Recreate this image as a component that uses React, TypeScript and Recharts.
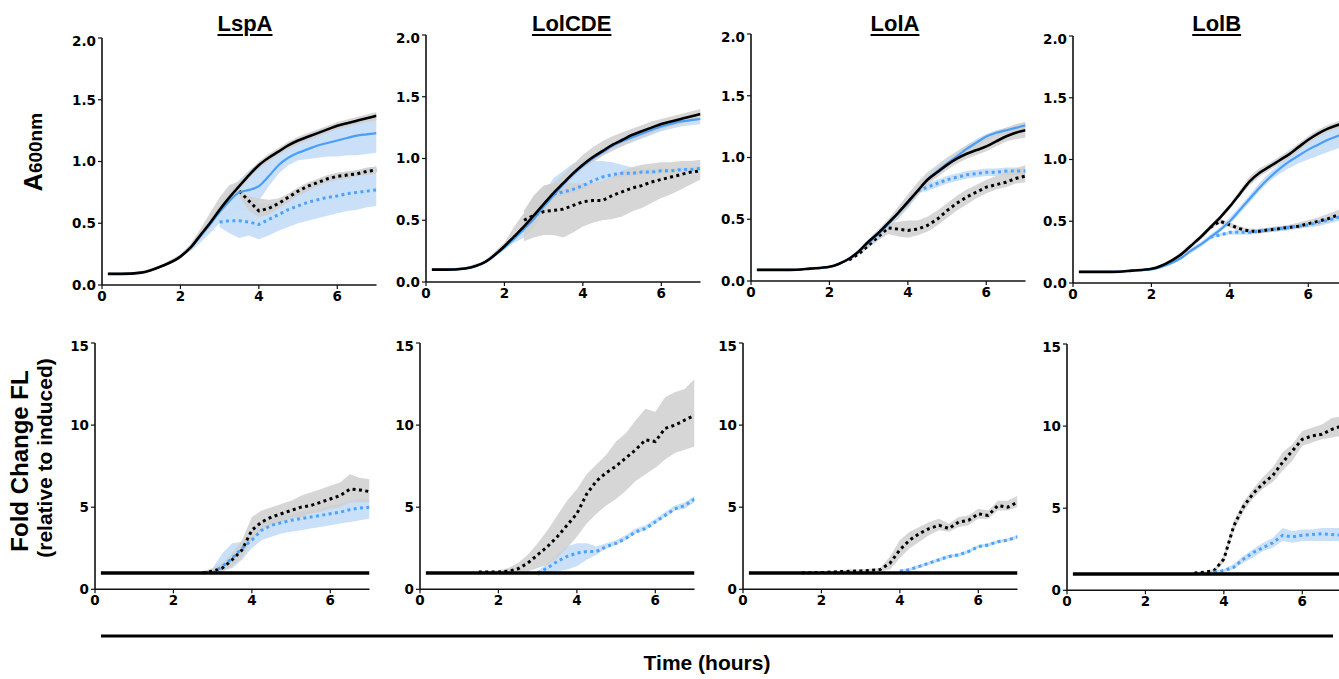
import React from 'react';
import { ComposedChart, Line, Area, XAxis, YAxis } from 'recharts';

// ---------- time grid (hours) ----------
const T = [0.15, 0.5, 1, 1.5, 2, 2.25, 2.5, 2.75, 3, 3.25, 3.5, 3.75, 4, 4.25, 4.5, 4.75, 5, 5.25, 5.5, 5.75, 6, 6.25, 6.5, 6.75, 7];

const TITLES = ['LspA', 'LolCDE', 'LolA', 'LolB'];
const X_TICKS = [0, 2, 4, 6];
const OD_TICKS = [0, 0.5, 1, 1.5, 2];
const FL_TICKS = [0, 5, 10, 15];

// ---------- A600 panels ----------
// LspA
const L1_KS = [0.09,0.09,0.1,0.15,0.23,0.3,0.4,0.5,0.61,0.71,0.8,0.89,0.97,1.03,1.08,1.13,1.17,1.2,1.23,1.26,1.29,1.31,1.33,1.35,1.37];
const L1_KS_LO = [0.085,0.085,0.095,0.14,0.22,0.28,0.37,0.46,0.57,0.67,0.77,0.86,0.94,1.0,1.05,1.1,1.14,1.17,1.2,1.23,1.26,1.28,1.3,1.32,1.33];
const L1_KS_HI = [0.1,0.1,0.11,0.16,0.25,0.33,0.45,0.58,0.71,0.81,0.84,0.92,1.0,1.06,1.11,1.16,1.2,1.23,1.26,1.29,1.32,1.34,1.36,1.38,1.4];
const L1_BS = [0.09,0.09,0.1,0.15,0.23,0.3,0.39,0.49,0.59,0.68,0.75,0.77,0.8,0.88,0.97,1.03,1.07,1.1,1.13,1.15,1.17,1.19,1.21,1.22,1.23];
const L1_BS_LO = [0.27,0.34,0.42,0.5,0.56,0.6,0.62,0.68,0.8,0.9,0.97,1.01,1.02,1.03,1.04,1.04,1.05,1.05,1.06,1.07];
const L1_BS_HI = [0.31,0.42,0.54,0.66,0.76,0.85,0.93,0.99,1.05,1.1,1.14,1.18,1.22,1.25,1.28,1.3,1.32,1.34,1.36,1.38];
const L1_KD = [0.76,0.68,0.6,0.62,0.66,0.71,0.76,0.8,0.83,0.86,0.88,0.89,0.9,0.92,0.93];
const L1_KD_LO = [0.72,0.6,0.55,0.57,0.62,0.67,0.72,0.76,0.8,0.83,0.85,0.86,0.88,0.89,0.9];
const L1_KD_HI = [0.78,0.72,0.7,0.69,0.7,0.74,0.79,0.83,0.86,0.89,0.91,0.92,0.93,0.95,0.96];
const L1_BD = [0.51,0.52,0.52,0.51,0.49,0.53,0.57,0.61,0.64,0.67,0.69,0.71,0.72,0.74,0.75,0.76,0.77];
const L1_BD_LO = [0.47,0.42,0.38,0.4,0.37,0.4,0.44,0.47,0.5,0.52,0.54,0.56,0.58,0.6,0.61,0.63,0.64];
const L1_BD_HI = [0.55,0.62,0.7,0.72,0.66,0.66,0.68,0.72,0.76,0.8,0.84,0.87,0.9,0.92,0.93,0.95,0.96];

// LolCDE
const L2_KS = [0.1,0.1,0.11,0.16,0.29,0.37,0.45,0.54,0.63,0.72,0.8,0.88,0.95,1.01,1.06,1.11,1.15,1.19,1.22,1.25,1.28,1.3,1.32,1.34,1.36];
const L2_KS_LO = [0.09,0.09,0.1,0.15,0.27,0.34,0.41,0.5,0.6,0.69,0.77,0.85,0.92,0.97,1.02,1.06,1.1,1.14,1.17,1.2,1.23,1.26,1.28,1.3,1.32];
const L2_KS_HI = [0.11,0.11,0.12,0.17,0.32,0.45,0.56,0.7,0.78,0.8,0.87,0.95,1.03,1.09,1.14,1.18,1.21,1.24,1.27,1.3,1.32,1.34,1.36,1.38,1.4];
const L2_BS = [0.1,0.1,0.11,0.16,0.28,0.35,0.43,0.51,0.61,0.7,0.79,0.87,0.94,1.0,1.05,1.1,1.14,1.17,1.2,1.23,1.26,1.28,1.3,1.31,1.32];
const L2_BS_LO = [0.09,0.09,0.1,0.15,0.26,0.32,0.36,0.44,0.56,0.67,0.76,0.84,0.91,0.97,1.02,1.07,1.1,1.13,1.16,1.19,1.22,1.24,1.26,1.27,1.28];
const L2_BS_HI = [0.11,0.11,0.12,0.17,0.3,0.38,0.47,0.58,0.72,0.84,0.9,0.96,0.99,1.03,1.08,1.12,1.16,1.19,1.22,1.25,1.28,1.3,1.32,1.33,1.34];
const L2_KD = [0.5,0.54,0.57,0.58,0.59,0.62,0.65,0.66,0.66,0.7,0.73,0.76,0.78,0.81,0.83,0.85,0.87,0.89,0.9];
const L2_KD_LO = [0.33,0.36,0.38,0.38,0.36,0.4,0.45,0.48,0.5,0.51,0.53,0.57,0.6,0.64,0.68,0.71,0.75,0.79,0.83];
const L2_KD_HI = [0.58,0.7,0.78,0.8,0.8,0.8,0.8,0.8,0.82,0.85,0.9,0.93,0.95,0.96,0.97,0.97,0.98,0.98,0.99];
const L2_BD = [0.71,0.73,0.75,0.78,0.82,0.85,0.87,0.88,0.88,0.89,0.89,0.9,0.9,0.91,0.91,0.92];
const L2_BD_LO = [0.68,0.7,0.72,0.75,0.79,0.82,0.84,0.85,0.86,0.87,0.87,0.88,0.88,0.89,0.89,0.9];
const L2_BD_HI = [0.75,0.78,0.85,0.97,0.98,0.98,0.97,0.95,0.93,0.92,0.92,0.92,0.92,0.93,0.93,0.94];

// LolA
const L3_KS = [0.09,0.09,0.09,0.1,0.115,0.14,0.18,0.24,0.32,0.39,0.47,0.55,0.64,0.73,0.82,0.88,0.94,0.99,1.03,1.06,1.09,1.13,1.17,1.2,1.22];
const L3_KS_LO = [0.085,0.085,0.085,0.095,0.11,0.13,0.17,0.22,0.3,0.37,0.44,0.51,0.6,0.69,0.78,0.84,0.9,0.95,0.99,1.02,1.05,1.09,1.13,1.15,1.16];
const L3_KS_HI = [0.095,0.095,0.095,0.105,0.12,0.15,0.19,0.26,0.34,0.42,0.5,0.6,0.7,0.8,0.88,0.94,1.0,1.05,1.1,1.14,1.18,1.21,1.24,1.27,1.29];
const L3_BS = [0.09,0.09,0.09,0.1,0.115,0.14,0.18,0.24,0.31,0.38,0.46,0.55,0.63,0.73,0.82,0.89,0.95,1.01,1.07,1.12,1.17,1.2,1.22,1.24,1.26];
const L3_BS_LO = [0.085,0.085,0.085,0.095,0.11,0.13,0.17,0.22,0.29,0.36,0.43,0.5,0.59,0.69,0.79,0.86,0.92,0.98,1.04,1.09,1.14,1.17,1.19,1.21,1.23];
const L3_BS_HI = [0.095,0.095,0.095,0.105,0.12,0.15,0.19,0.26,0.33,0.4,0.49,0.58,0.67,0.77,0.85,0.92,0.98,1.04,1.1,1.15,1.19,1.22,1.24,1.26,1.28];
const L3_KD = [0.17,0.22,0.29,0.36,0.43,0.42,0.41,0.42,0.45,0.5,0.57,0.63,0.68,0.72,0.76,0.78,0.8,0.83,0.85];
const L3_KD_LO = [0.16,0.21,0.27,0.33,0.38,0.36,0.35,0.37,0.4,0.45,0.51,0.57,0.62,0.67,0.71,0.74,0.76,0.79,0.8];
const L3_KD_HI = [0.18,0.23,0.31,0.39,0.46,0.48,0.49,0.49,0.52,0.57,0.63,0.69,0.74,0.78,0.82,0.85,0.88,0.91,0.94];
const L3_BD = [0.73,0.76,0.79,0.82,0.84,0.86,0.87,0.88,0.88,0.89,0.89,0.89];
const L3_BD_LO = [0.71,0.73,0.76,0.79,0.81,0.83,0.84,0.85,0.85,0.86,0.86,0.86];
const L3_BD_HI = [0.75,0.79,0.82,0.85,0.87,0.89,0.9,0.91,0.91,0.92,0.92,0.92];

// LolB
const L4_KS = [0.09,0.09,0.09,0.1,0.115,0.14,0.18,0.23,0.3,0.37,0.45,0.53,0.62,0.72,0.82,0.89,0.94,0.99,1.04,1.1,1.16,1.21,1.25,1.28,1.3];
const L4_KS_LO = [0.085,0.085,0.085,0.095,0.11,0.13,0.17,0.21,0.28,0.35,0.43,0.51,0.6,0.7,0.79,0.86,0.91,0.96,1.01,1.07,1.13,1.18,1.22,1.25,1.27];
const L4_KS_HI = [0.095,0.095,0.095,0.105,0.12,0.15,0.19,0.25,0.32,0.39,0.47,0.55,0.64,0.75,0.86,0.93,0.97,1.02,1.07,1.13,1.19,1.24,1.28,1.31,1.33];
const L4_BS = [0.09,0.09,0.09,0.1,0.11,0.13,0.16,0.2,0.26,0.31,0.37,0.43,0.5,0.59,0.68,0.77,0.85,0.92,0.98,1.03,1.08,1.12,1.16,1.19,1.22];
const L4_BS_LO = [0.085,0.085,0.085,0.095,0.105,0.12,0.15,0.19,0.24,0.29,0.35,0.41,0.48,0.56,0.65,0.74,0.82,0.88,0.93,0.97,1.0,1.03,1.06,1.09,1.11];
const L4_BS_HI = [0.095,0.095,0.095,0.105,0.115,0.14,0.17,0.21,0.28,0.33,0.39,0.45,0.53,0.62,0.71,0.81,0.89,0.96,1.02,1.08,1.14,1.19,1.23,1.27,1.3];
const L4_KD = [0.45,0.5,0.47,0.44,0.42,0.42,0.43,0.44,0.45,0.46,0.48,0.5,0.52,0.55,0.57];
const L4_KD_LO = [0.44,0.48,0.45,0.42,0.4,0.4,0.41,0.42,0.43,0.44,0.46,0.47,0.49,0.52,0.54];
const L4_KD_HI = [0.46,0.52,0.49,0.46,0.44,0.44,0.45,0.46,0.47,0.49,0.51,0.53,0.56,0.59,0.61];
const L4_BD = [0.37,0.39,0.41,0.41,0.41,0.42,0.43,0.44,0.45,0.46,0.47,0.49,0.51,0.53,0.55];
const L4_BD_LO = [0.36,0.38,0.39,0.39,0.39,0.4,0.41,0.42,0.43,0.44,0.45,0.46,0.48,0.5,0.52];
const L4_BD_HI = [0.38,0.4,0.42,0.43,0.43,0.44,0.45,0.46,0.47,0.48,0.49,0.51,0.53,0.55,0.57];

// ---------- Fold change FL panels ----------
const FL_BASE = [1,1,1,1,1,1,1,1,1,1,1,1,1,1,1,1,1,1,1,1,1,1,1,1,1];

const F1_KD = [1.0,1.1,1.3,1.8,2.4,3.6,4.1,4.4,4.6,4.8,5.0,5.1,5.3,5.5,5.7,6.1,6.05,5.95];
const F1_KD_LO = [0.95,1.0,1.1,1.4,1.9,3.0,3.6,3.9,4.1,4.3,4.4,4.6,4.7,4.9,5.0,5.3,5.3,5.3];
const F1_KD_HI = [1.1,1.3,1.6,2.2,3.0,4.4,4.8,5.0,5.2,5.4,5.7,5.9,6.1,6.3,6.5,7.0,6.8,6.7];
const F1_BD = [1.0,1.4,1.9,2.5,3.0,3.6,3.9,4.05,4.2,4.3,4.4,4.5,4.6,4.7,4.85,4.95,5.0];
const F1_BD_LO = [0.9,1.1,1.3,1.8,2.5,3.0,3.2,3.4,3.5,3.6,3.7,3.8,3.9,4.0,4.1,4.2,4.3];
const F1_BD_HI = [1.3,2.2,2.8,2.9,3.6,4.1,4.3,4.5,4.6,4.7,4.8,4.9,5.1,5.2,5.4,5.5,5.5];

const F2_KD = [1.05,1.05,1.1,1.25,1.6,2.1,2.6,3.2,3.9,4.6,5.8,6.6,7.1,7.5,8.0,8.5,9.1,9.0,9.8,10.0,10.3,10.6];
const F2_KD_LO = [1.0,0.95,0.95,0.95,1.1,1.3,1.5,1.9,2.5,3.2,4.0,4.6,5.1,5.5,6.0,6.6,7.0,7.4,7.9,8.3,8.5,8.7];
const F2_KD_HI = [1.1,1.15,1.3,1.6,2.1,2.8,3.6,4.5,5.4,6.1,7.0,7.6,8.2,9.0,9.5,10.3,11.0,10.8,11.7,12.0,12.2,12.8];
const F2_BD = [1.0,1.3,1.7,2.0,2.2,2.3,2.3,2.6,2.8,3.1,3.5,3.7,4.1,4.5,4.9,5.1,5.5];
const F2_BD_LO = [0.8,1.0,1.1,1.2,1.4,1.8,2.1,2.5,2.7,3.0,3.4,3.6,4.0,4.4,4.8,4.9,5.3];
const F2_BD_HI = [1.1,1.6,2.2,2.6,2.8,2.8,2.6,2.8,3.0,3.3,3.7,3.9,4.3,4.7,5.1,5.3,5.7];

const F3_KD = [1.0,1.02,1.05,1.08,1.1,1.12,1.15,1.2,1.6,2.4,3.0,3.4,3.7,3.9,3.7,4.1,4.2,4.6,4.5,5.1,5.0,5.3];
const F3_KD_LO = [0.95,0.95,1.0,1.0,1.0,1.05,1.08,1.1,1.2,1.9,2.5,2.9,3.3,3.6,3.5,3.8,3.9,4.3,4.3,4.8,4.8,5.0];
const F3_KD_HI = [1.05,1.08,1.1,1.15,1.2,1.2,1.25,1.3,2.0,3.0,3.5,3.8,4.1,4.3,4.0,4.4,4.5,4.9,4.8,5.4,5.4,5.7];
const F3_BD = [1.1,1.2,1.4,1.6,1.8,2.0,2.1,2.3,2.6,2.7,2.9,3.0,3.2];
const F3_BD_LO = [1.0,1.1,1.3,1.5,1.7,1.9,2.0,2.2,2.5,2.6,2.8,2.9,3.1];
const F3_BD_HI = [1.2,1.3,1.5,1.7,1.9,2.1,2.2,2.4,2.7,2.8,3.0,3.1,3.3];

const F4_KD = [1.05,1.1,1.2,1.9,3.9,5.1,5.9,6.5,7.0,7.8,8.5,9.2,9.4,9.5,9.8,10.0];
const F4_KD_LO = [1.0,1.05,1.1,1.7,3.6,4.8,5.6,6.2,6.6,7.3,7.9,8.8,9.0,9.2,9.3,9.4];
const F4_KD_HI = [1.1,1.15,1.3,2.1,4.2,5.4,6.2,6.9,7.5,8.4,8.9,9.7,9.9,10.1,10.5,10.6];
const F4_BD = [1.1,1.2,1.4,1.9,2.3,2.6,2.9,3.35,3.25,3.35,3.4,3.45,3.4,3.35];
const F4_BD_LO = [1.0,1.1,1.3,1.7,2.0,2.4,2.6,3.0,2.9,3.0,3.0,3.0,3.0,3.0];
const F4_BD_HI = [1.2,1.3,1.6,2.1,2.5,2.9,3.2,3.8,3.6,3.7,3.7,3.8,3.8,3.8];

// ---------- styles ----------
const FONT = '"Liberation Sans", Arial, Helvetica, sans-serif';
const TICK_FONT = '"DejaVu Sans", Verdana, sans-serif';
const BLACK = '#000000';
const BLUE = '#4a9ef5';
const BLUE_DOT = '#4aa3ff';
const GREY_BAND = '#cfcfcf';
const BLUE_BAND = '#c7def9';
const PLOT_W = 274.5;

type Kind = 'kS' | 'bS' | 'kD' | 'bD';
interface Series { kind: Kind; start: number; mean: number[]; lo?: number[]; hi?: number[] }

const lineRows = (s: Series) => s.mean.map((v, i) => ({ t: T[s.start + i], v }));
const bandRows = (s: Series) => (s.lo as number[]).map((l, i) => ({ t: T[s.start + i], r: [l, (s.hi as number[])[i]] }));

const topSeries: Series[][] = [
  [
    { kind: 'bS', start: 0, mean: L1_BS },
    { kind: 'bS', start: 5, mean: [], lo: L1_BS_LO, hi: L1_BS_HI },
    { kind: 'bD', start: 8, mean: L1_BD, lo: L1_BD_LO, hi: L1_BD_HI },
    { kind: 'kS', start: 0, mean: L1_KS, lo: L1_KS_LO, hi: L1_KS_HI },
    { kind: 'kD', start: 10, mean: L1_KD, lo: L1_KD_LO, hi: L1_KD_HI },
  ],
  [
    { kind: 'bS', start: 0, mean: L2_BS, lo: L2_BS_LO, hi: L2_BS_HI },
    { kind: 'kS', start: 0, mean: L2_KS, lo: L2_KS_LO, hi: L2_KS_HI },
    { kind: 'kD', start: 6, mean: L2_KD, lo: L2_KD_LO, hi: L2_KD_HI },
    { kind: 'bD', start: 9, mean: L2_BD, lo: L2_BD_LO, hi: L2_BD_HI },
  ],
  [
    { kind: 'bS', start: 0, mean: L3_BS, lo: L3_BS_LO, hi: L3_BS_HI },
    { kind: 'bD', start: 13, mean: L3_BD, lo: L3_BD_LO, hi: L3_BD_HI },
    { kind: 'kS', start: 0, mean: L3_KS, lo: L3_KS_LO, hi: L3_KS_HI },
    { kind: 'kD', start: 6, mean: L3_KD, lo: L3_KD_LO, hi: L3_KD_HI },
  ],
  [
    { kind: 'bS', start: 0, mean: L4_BS, lo: L4_BS_LO, hi: L4_BS_HI },
    { kind: 'bD', start: 10, mean: L4_BD, lo: L4_BD_LO, hi: L4_BD_HI },
    { kind: 'kS', start: 0, mean: L4_KS, lo: L4_KS_LO, hi: L4_KS_HI },
    { kind: 'kD', start: 10, mean: L4_KD, lo: L4_KD_LO, hi: L4_KD_HI },
  ],
];

const bottomSeries: Series[][] = [
  [
    { kind: 'bD', start: 8, mean: F1_BD, lo: F1_BD_LO, hi: F1_BD_HI },
    { kind: 'kD', start: 7, mean: F1_KD, lo: F1_KD_LO, hi: F1_KD_HI },
    { kind: 'kS', start: 0, mean: FL_BASE },
  ],
  [
    { kind: 'bD', start: 8, mean: F2_BD, lo: F2_BD_LO, hi: F2_BD_HI },
    { kind: 'kD', start: 3, mean: F2_KD, lo: F2_KD_LO, hi: F2_KD_HI },
    { kind: 'kS', start: 0, mean: FL_BASE },
  ],
  [
    { kind: 'bD', start: 12, mean: F3_BD, lo: F3_BD_LO, hi: F3_BD_HI },
    { kind: 'kD', start: 3, mean: F3_KD, lo: F3_KD_LO, hi: F3_KD_HI },
    { kind: 'kS', start: 0, mean: FL_BASE },
  ],
  [
    { kind: 'bD', start: 11, mean: F4_BD, lo: F4_BD_LO, hi: F4_BD_HI },
    { kind: 'kD', start: 9, mean: F4_KD, lo: F4_KD_LO, hi: F4_KD_HI },
    { kind: 'kS', start: 0, mean: FL_BASE },
  ],
];

const TOP_POS = [
  { x0: 101.7, yTop: 38 },
  { x0: 426, yTop: 35 },
  { x0: 750.7, yTop: 34.3 },
  { x0: 1072.7, yTop: 36 },
];
const BOT_POS = [
  { x0: 95, yTop: 342.7 },
  { x0: 420, yTop: 343.3 },
  { x0: 742.7, yTop: 343.3 },
  { x0: 1066.7, yTop: 344 },
];

const tickStyle = { fill: '#000', fontSize: 13.5, fontWeight: 700, fontFamily: TICK_FONT };

function Panel(props: { x0: number; yTop: number; plotH: number; yMax: number; yTicks: number[]; fmt: (v: number) => string; series: Series[]; bottom?: boolean }) {
  const { x0, yTop, plotH, yMax, yTicks, fmt, series, bottom } = props;
  const yw = 44, mt = 5, mr = 10, xh = 30;
  const width = yw + PLOT_W + mr;
  const height = mt + plotH + xh;
  const bands = series.filter((s) => s.lo && s.hi);
  const bandsOrdered = [...bands.filter((s) => s.kind[0] === 'b'), ...bands.filter((s) => s.kind[0] === 'k')];
  const lineOrder: Kind[] = ['kD', 'bD', 'bS', 'kS'];
  const lines = lineOrder.flatMap((k) => series.filter((s) => s.kind === k && s.mean.length > 0));
  return (
    <div style={{ position: 'absolute', left: x0 - yw, top: yTop - mt }}>
      <ComposedChart width={width} height={height} margin={{ top: mt, right: mr, bottom: 0, left: 0 }}>
        <XAxis
          type="number"
          dataKey="t"
          domain={[0, 7]}
          ticks={X_TICKS}
          allowDataOverflow
          height={xh}
          tick={tickStyle}
          tickSize={4}
          axisLine={{ stroke: '#111', strokeWidth: 1.6 }}
          tickLine={{ stroke: '#111', strokeWidth: 1.2 }}
        />
        <YAxis
          type="number"
          domain={[0, yMax]}
          ticks={yTicks}
          allowDataOverflow
          width={yw}
          tick={tickStyle}
          tickSize={4}
          tickFormatter={fmt}
          axisLine={{ stroke: '#111', strokeWidth: 1.6 }}
          tickLine={{ stroke: '#111', strokeWidth: 1.2 }}
        />
        {bandsOrdered.map((s, i) => (
          <Area
            key={'band' + i}
            data={bandRows(s)}
            dataKey="r"
            type="linear"
            stroke="none"
            fill={s.kind[0] === 'b' ? BLUE_BAND : GREY_BAND}
            fillOpacity={s.kind[0] === 'b' ? 0.95 : 0.85}
            dot={false}
            activeDot={false}
            isAnimationActive={false}
          />
        ))}
        {lines.map((s, i) => {
          const dotted = s.kind === 'kD' || s.kind === 'bD';
          const blue = s.kind[0] === 'b';
          return (
            <Line
              key={'line' + i}
              data={lineRows(s)}
              dataKey="v"
              type={dotted ? 'linear' : 'monotone'}
              stroke={blue ? (dotted ? BLUE_DOT : BLUE) : BLACK}
              strokeWidth={dotted ? 3 : s.kind === 'kS' ? (bottom ? 3.5 : 2.6) : 2.2}
              strokeDasharray={dotted ? '3 3.4' : undefined}
              dot={false}
              activeDot={false}
              isAnimationActive={false}
            />
          );
        })}
      </ComposedChart>
    </div>
  );
}

const TITLE_X = [245, 571.7, 895, 1216.7];

export default function App() {
  return (
    <div style={{ position: 'absolute', left: 0, top: 0, width: 1339, height: 679, overflow: 'hidden', background: '#fff', fontFamily: FONT }}>
      {TOP_POS.map((p, i) => (
        <Panel key={'top' + i} x0={p.x0} yTop={p.yTop} plotH={247} yMax={2} yTicks={OD_TICKS} fmt={(v) => v.toFixed(1)} series={topSeries[i]} />
      ))}
      {BOT_POS.map((p, i) => (
        <Panel key={'bot' + i} x0={p.x0} yTop={p.yTop} plotH={246.3} yMax={15} yTicks={FL_TICKS} fmt={(v) => String(v)} series={bottomSeries[i]} bottom />
      ))}
      {TITLES.map((t, i) => (
        <div
          key={t}
          style={{
            position: 'absolute',
            left: TITLE_X[i] - 100,
            width: 200,
            top: 11,
            textAlign: 'center',
            fontSize: 22,
            fontWeight: 700,
            lineHeight: '26px',
            textDecoration: 'underline',
            textDecorationThickness: '2px',
            textUnderlineOffset: '3px',
          }}
        >
          {t}
        </div>
      ))}
      <svg width={1339} height={679} style={{ position: 'absolute', left: 0, top: 0, pointerEvents: 'none' }}>
        <text x={42} y={152} transform="rotate(-90 42 152)" textAnchor="middle" fontFamily={FONT} fontWeight={700} fill="#000">
          <tspan fontSize={25}>A</tspan>
          <tspan fontSize={19}>600nm</tspan>
        </text>
        <text x={28} y={461} transform="rotate(-90 28 461)" textAnchor="middle" fontFamily={FONT} fontWeight={700} fontSize={24} fill="#000">
          Fold Change FL
        </text>
        <text x={52} y={458} transform="rotate(-90 52 458)" textAnchor="middle" fontFamily={FONT} fontWeight={700} fontSize={21} fill="#000">
          (relative to induced)
        </text>
        <line x1={101} y1={636} x2={1333} y2={636} stroke="#000" strokeWidth={3} />
        <text x={707} y={670} textAnchor="middle" fontFamily={FONT} fontWeight={700} fontSize={21} fill="#000">
          Time (hours)
        </text>
      </svg>
    </div>
  );
}
